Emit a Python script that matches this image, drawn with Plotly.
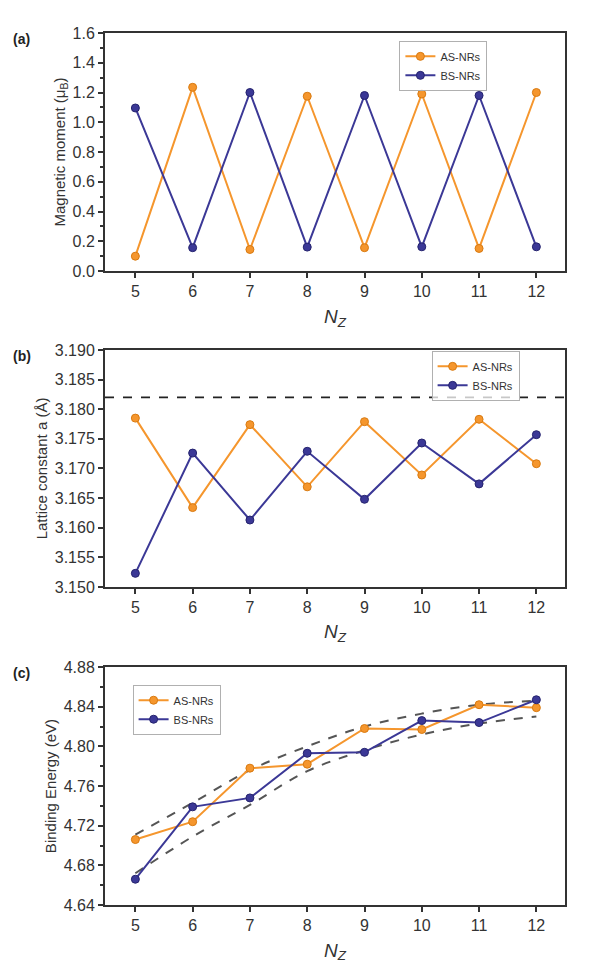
import plotly.graph_objects as go
from plotly.subplots import make_subplots

# dane
nz = [5, 6, 7, 8, 9, 10, 11, 12]

mag_as = [0.10, 1.235, 0.145, 1.175, 0.157, 1.19, 0.152, 1.20]
mag_bs = [1.096, 0.157, 1.20, 0.161, 1.18, 0.163, 1.18, 0.163]

lat_as = [3.1785, 3.1634, 3.1774, 3.1669, 3.1779, 3.1689, 3.1783, 3.1708]
lat_bs = [3.1523, 3.1726, 3.1613, 3.1729, 3.1648, 3.1743, 3.1674, 3.1757]
lat_bulk = 3.182

be_as = [4.706, 4.724, 4.778, 4.782, 4.818, 4.817, 4.842, 4.839]
be_bs = [4.666, 4.739, 4.748, 4.793, 4.794, 4.826, 4.824, 4.847]
be_upper = [4.711, 4.743, 4.776, 4.800, 4.820, 4.833, 4.842, 4.846]
be_lower = [4.672, 4.709, 4.741, 4.775, 4.796, 4.812, 4.823, 4.830]

c_as = '#F5962D'
c_bs = '#3B3896'

fig = make_subplots(rows=3, cols=1)

legendy = ['legend', 'legend2', 'legend3']
serie = [(mag_as, mag_bs), (lat_as, lat_bs), (be_as, be_bs)]

for i, (ya, yb) in enumerate(serie):
    row = i + 1
    if row == 3:
        # krzywe pomocnicze (obwiednie)
        for yy in (be_upper, be_lower):
            fig.add_trace(go.Scatter(
                x=nz, y=yy, mode='lines', showlegend=False,
                line=dict(color='#555555', width=2, dash='dash', shape='spline'),
            ), row=row, col=1)
    fig.add_trace(go.Scatter(
        x=nz, y=ya, name='AS-NRs', mode='lines+markers', legend=legendy[i],
        line=dict(color=c_as, width=2),
        marker=dict(size=8, color=c_as, line=dict(color='#D97A10', width=1)),
    ), row=row, col=1)
    fig.add_trace(go.Scatter(
        x=nz, y=yb, name='BS-NRs', mode='lines+markers', legend=legendy[i],
        line=dict(color=c_bs, width=2),
        marker=dict(size=8, color=c_bs, line=dict(color='#25236e', width=1)),
    ), row=row, col=1)

# linia przerywana - wartość objętościowa
fig.add_shape(type='line', xref='x2 domain', yref='y2', x0=0, x1=1,
              y0=lat_bulk, y1=lat_bulk,
              line=dict(color='#222222', width=1.8, dash='dash'))

leg_style = dict(bgcolor='rgba(255,255,255,0.75)', bordercolor='#b0b0b0',
                 borderwidth=1, font=dict(family='Arial, Liberation Sans', size=11, color='#333'),
                 xanchor='left', yanchor='top', tracegroupgap=0,
                 itemwidth=30)

fig.update_layout(
    width=600,
    height=969,
    margin=dict(l=97, r=43, t=25, b=72),
    plot_bgcolor='white',
    paper_bgcolor='white',
    font=dict(family='Arial, Liberation Sans', color='#333'),
    legend=dict(x=0.64, y=0.991, **leg_style),
    legend2=dict(x=0.71, y=0.6355, **leg_style),
    legend3=dict(x=0.06, y=0.2526, **leg_style),
)

domeny = [[0.727, 1.0], [0.3647, 0.6365], [0.0, 0.2729]]
tytuly_y = ['Magnetic moment (μ<sub>B</sub>)', 'Lattice constant a (Å)', 'Binding Energy (eV)']
zakresy_y = [[0, 1.6], [3.150, 3.190], [4.64, 4.88]]
dtick_y = [0.2, 0.005, 0.04]
format_y = ['.1f', '.3f', '.2f']

for i in range(3):
    row = i + 1
    fig.update_yaxes(
        domain=domeny[i], range=zakresy_y[i], dtick=dtick_y[i], tickformat=format_y[i],
        title=dict(text=tytuly_y[i], font=dict(size=15, color='#333'), standoff=3),
        showline=True, linecolor='#333', linewidth=2, mirror=True,
        ticks='outside', ticklen=5, tickwidth=1.5, tickcolor='#333',
        minor=dict(ticks='outside', ticklen=3, tickcolor='#333', nticks=2),
        showgrid=False, zeroline=False,
        tickfont=dict(size=16, color='#333'),
        row=row, col=1)
    fig.update_xaxes(
        range=[4.47, 12.5], dtick=1,
        title=dict(text='<i>N</i><sub><i>Z</i></sub>', font=dict(size=19, color='#333'), standoff=10),
        showline=True, linecolor='#333', linewidth=2, mirror=True,
        ticks='outside', ticklen=5, tickwidth=1.5, tickcolor='#333',
        showgrid=False, zeroline=False,
        tickfont=dict(size=16, color='#333'),
        row=row, col=1)

# oznaczenia paneli
for lit, yp in zip(['(a)', '(b)', '(c)'], [1.0, 0.6365, 0.2729]):
    fig.add_annotation(text='<b>' + lit + '</b>', xref='paper', yref='paper',
                       x=-0.205, y=yp + 0.005, xanchor='left', yanchor='top',
                       showarrow=False, font=dict(size=14, color='#222'))

fig.write_html("out.html")
